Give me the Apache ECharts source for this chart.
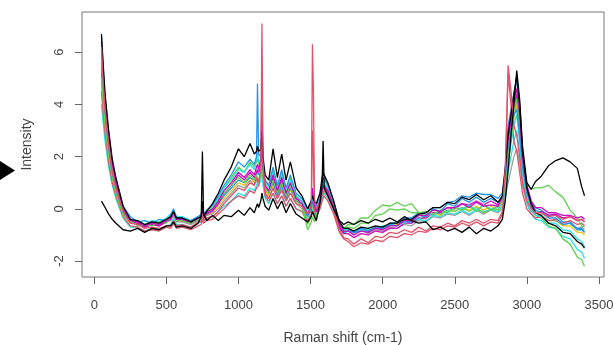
<!DOCTYPE html>
<html><head><meta charset="utf-8">
<script src="https://cdn.jsdelivr.net/npm/echarts@6/dist/echarts.min.js"></script>
<style>html,body{margin:0;padding:0;background:#fff}#c{width:613px;height:345px}</style>
</head><body><div id="c"></div>
<script>
// Raman shift grid (cm-1)
const wavenumbers = [
  50, 60, 75, 100, 125, 150, 200, 250, 300, 350, 400, 450, 500,
  530, 550, 570, 610, 670, 720, 742, 750, 758, 780, 820,
  860, 900, 950, 1000, 1040, 1080, 1110, 1125, 1132, 1140, 1155, 1163, 1170, 1185, 1210, 1240,
  1270, 1300, 1330, 1360, 1400, 1440, 1480, 1505, 1513, 1520, 1527, 1540, 1565, 1580, 1587, 1595, 1620, 1660,
  1700, 1730, 1760, 1800, 1850, 1900, 1950, 2000, 2050, 2100, 2150, 2200, 2250, 2300, 2350, 2400, 2450, 2500, 2550, 2600, 2650, 2700, 2750, 2800,
  2830, 2850, 2870, 2890, 2910, 2930, 2950, 2970, 3000, 3030, 3060, 3100, 3150, 3200, 3250, 3300, 3350, 3380, 3400
];
const xTickValues = [0, 500, 1000, 1500, 2000, 2500, 3000, 3500];
const yTickValues = [-2, 0, 2, 4, 6];

const spectrumBlackA = [
  0.3, 0.2, 0.05, -0.2, -0.4, -0.55, -0.8, -0.85, -0.75, -0.9, -0.75, -0.8, -0.65,
  -0.65, -0.5, -0.7, -0.65, -0.75, -0.55, -0.3, 2.2, -0.2, -0.45, -0.25,
  -0.45, -0.25, -0.3, -0.05, -0.25, 0.05, -0.15, 0.1, 0.2, 0.05, 0.3, 0.6, 0.4, 0.1, -0.05, 0.4,
  0.0, 0.3, -0.15, 0.2, -0.2, -0.35, -0.5, -0.3, -0.1, -0.2, -0.3, -0.45, 0.2, 0.9, 2.6, 0.8, 0.5, 0.0,
  -0.45, -0.6, -0.5, -0.6, -0.45, -0.55, -0.4, -0.5, -0.35, -0.5, -0.3, -0.45, -0.55, -0.5, -0.8, -0.7, -0.85, -0.75, -0.9, -0.7, -0.95, -0.75, -0.85, -0.65,
  -0.4, 0.3, 1.5, 2.8, 4.0, 5.3, 4.2, 2.4, 1.0, 0.75, 1.05, 1.25, 1.65, 1.85, 1.95, 1.8, 1.55, 0.85, 0.5
];
const spectrumPinkA = [
  6.2, 5.0, 3.8, 2.4, 1.4, 0.8, -0.1, -0.55, -0.6, -0.75, -0.7, -0.75, -0.65,
  -0.65, -0.45, -0.65, -0.6, -0.7, -0.5, -0.5, -0.2, -0.45, -0.35, -0.3,
  -0.1, 0.2, 0.5, 0.8, 0.7, 1.0, 0.9, 1.2, 1.1, 1.0, 1.6, 7.1, 1.8, 0.6, 0.4, 0.8,
  0.4, 0.7, 0.3, 0.6, 0.2, 0.1, -0.2, 0.1, 6.3, 4.5, 0.4, 0.0, 0.2, 0.5, 0.6, 0.7, 0.5, 0.0,
  -0.8, -1.1, -1.15, -1.35, -1.15, -1.3, -1.05, -1.1, -0.9, -0.95, -0.8, -0.9, -0.7, -0.85, -0.65, -0.7, -0.55, -0.65, -0.45, -0.55, -0.4, -0.55, -0.4, -0.45,
  -0.1, 1.5, 5.5, 4.5, 3.2, 2.8, 2.0, 1.0, 0.3, 0.0, -0.15, -0.15, -0.3, -0.25, -0.4, -0.3, -0.45, -0.4, -0.5
];
const spectrumGreenA = [
  5.0, 4.2, 3.2, 2.0, 1.2, 0.6, -0.25, -0.45, -0.65, -0.6, -0.65, -0.5, -0.55,
  -0.3, -0.2, -0.45, -0.45, -0.55, -0.4, -0.35, -0.1, -0.3, -0.15, 0.0,
  0.3, 0.6, 0.9, 1.2, 1.0, 1.3, 1.1, 1.3, 1.2, 1.1, 1.3, 1.8, 1.2, 0.8, 0.6, 1.1,
  0.6, 1.0, 0.5, 0.9, 0.3, 0.1, -0.8, -0.5, -0.3, -0.4, -0.5, -0.3, 0.2, 0.6, 0.7, 0.9, 0.7, 0.1,
  -0.6, -0.75, -0.6, -0.6, -0.35, -0.35, -0.05, 0.15, 0.1, 0.25, 0.1, 0.2, -0.15, -0.1, -0.2, -0.05, -0.15, 0.05, -0.05, 0.1, -0.1, 0.15, -0.05, 0.1,
  0.3, 0.9, 1.8, 2.6, 3.5, 4.2, 3.4, 2.0, 1.0, 0.75, 0.8, 0.8, 0.9, 0.65, 0.45, -0.05, -0.35, -0.65, -0.7
];
const spectrumBlueA = [
  6.6, 5.6, 4.3, 2.9, 1.8, 1.1, 0.1, -0.3, -0.5, -0.45, -0.55, -0.4, -0.45,
  -0.25, 0.0, -0.35, -0.35, -0.45, -0.3, -0.2, 0.1, -0.2, -0.05, 0.15,
  0.5, 0.9, 1.3, 1.8, 1.6, 1.9, 1.7, 2.0, 4.8, 2.1, 2.0, 2.6, 1.5, 1.1, 0.9, 1.6,
  0.9, 1.5, 0.8, 1.3, 0.6, 0.4, 0.0, 0.3, 0.5, 0.4, 0.2, 0.1, 0.5, 1.0, 1.1, 1.2, 0.9, 0.3,
  -0.5, -0.75, -0.75, -0.9, -0.75, -0.85, -0.7, -0.75, -0.6, -0.65, -0.45, -0.5, -0.25, -0.3, 0.0, -0.1, 0.2, 0.1, 0.4, 0.25, 0.45, 0.25, 0.4, 0.25,
  0.4, 1.2, 2.4, 3.0, 3.6, 3.8, 2.8, 1.6, 0.6, 0.2, -0.05, -0.15, -0.35, -0.35, -0.6, -0.55, -0.8, -0.8, -0.9
];
const spectrumCyanA = [
  5.8, 4.9, 3.9, 2.6, 1.6, 1.0, 0.0, -0.4, -0.45, -0.6, -0.45, -0.5, -0.35,
  -0.2, -0.05, -0.3, -0.3, -0.45, -0.3, -0.25, 0.0, -0.25, -0.05, 0.1,
  0.4, 0.8, 1.1, 1.5, 1.4, 1.7, 1.5, 1.9, 2.3, 1.8, 1.9, 3.0, 1.6, 1.0, 0.8, 1.4,
  0.8, 1.3, 0.7, 1.1, 0.5, 0.3, -0.1, 0.2, 0.4, 0.3, 0.1, 0.0, 0.4, 0.8, 0.9, 1.0, 0.8, 0.2,
  -0.5, -0.8, -0.8, -0.85, -0.8, -0.8, -0.75, -0.65, -0.65, -0.5, -0.55, -0.35, -0.4, -0.2, -0.25, -0.05, -0.1, 0.05, 0.0, 0.15, -0.05, 0.15, 0.0, 0.05,
  0.2, 0.8, 1.8, 2.5, 3.2, 3.6, 2.6, 1.3, 0.4, 0.0, -0.25, -0.3, -0.55, -0.55, -0.8, -0.85, -1.15, -1.25, -1.45
];
const spectrumMagentaA = [
  6.4, 5.4, 4.1, 2.7, 1.7, 1.0, 0.0, -0.45, -0.5, -0.65, -0.55, -0.6, -0.45,
  -0.35, -0.15, -0.4, -0.4, -0.5, -0.35, -0.3, 0.0, -0.3, -0.15, 0.0,
  0.3, 0.7, 1.0, 1.4, 1.2, 1.5, 1.3, 1.6, 1.7, 1.5, 1.9, 3.8, 1.8, 0.9, 0.7, 1.3,
  0.7, 1.2, 0.6, 1.0, 0.4, 0.2, -0.2, 0.1, 0.8, 0.5, 0.1, -0.1, 0.3, 0.7, 0.8, 0.9, 0.7, 0.1,
  -0.6, -0.85, -0.85, -1.0, -0.85, -0.9, -0.75, -0.8, -0.65, -0.65, -0.45, -0.45, -0.25, -0.25, -0.05, -0.1, 0.05, 0.05, 0.2, 0.05, 0.25, 0.1, 0.15, 0.1,
  0.5, 1.4, 3.0, 3.6, 4.2, 4.6, 3.6, 2.0, 0.9, 0.3, 0.05, 0.05, -0.15, -0.15, -0.25, -0.25, -0.35, -0.3, -0.4
];
const spectrumGray = [
  5.4, 4.6, 3.5, 2.3, 1.4, 0.8, -0.1, -0.5, -0.55, -0.7, -0.6, -0.65, -0.5,
  -0.45, -0.25, -0.5, -0.5, -0.6, -0.45, -0.4, -0.2, -0.4, -0.25, -0.2,
  0.0, 0.3, 0.6, 0.9, 0.8, 1.1, 0.9, 1.1, 1.0, 1.0, 1.3, 2.0, 1.1, 0.6, 0.4, 0.8,
  0.4, 0.8, 0.3, 0.6, 0.2, 0.0, -0.3, 0.0, 0.2, 0.1, -0.1, -0.2, 0.2, 0.5, 0.6, 0.7, 0.5, 0.0,
  -0.7, -0.9, -0.85, -0.95, -0.8, -0.95, -0.8, -0.85, -0.7, -0.75, -0.6, -0.65, -0.45, -0.5, -0.3, -0.35, -0.2, -0.25, -0.1, -0.25, -0.05, -0.2, -0.05, -0.15,
  0.0, 0.4, 1.0, 1.5, 2.0, 2.3, 1.8, 0.9, 0.2, -0.1, -0.25, -0.25, -0.45, -0.45, -0.6, -0.55, -0.75, -0.7, -0.8
];
const spectrumBlackB = [
  6.7, 5.7, 4.4, 3.0, 1.9, 1.2, 0.1, -0.4, -0.45, -0.6, -0.5, -0.55, -0.4,
  -0.3, -0.1, -0.35, -0.35, -0.5, -0.35, -0.3, 0.3, -0.25, -0.1, 0.2,
  0.6, 1.1, 1.6, 2.3, 2.0, 2.5, 2.1, 2.2, 2.4, 2.2, 2.3, 3.0, 2.0, 1.3, 1.1, 2.3,
  1.2, 2.1, 1.1, 1.8, 0.8, 0.5, 0.0, 0.3, 0.5, 0.4, 0.3, 0.2, 0.6, 1.2, 1.4, 1.3, 1.0, 0.3,
  -0.5, -0.75, -0.75, -0.85, -0.7, -0.75, -0.65, -0.7, -0.55, -0.55, -0.4, -0.4, -0.2, -0.15, 0.05, 0.05, 0.25, 0.2, 0.45, 0.35, 0.55, 0.35, 0.5, 0.25,
  0.5, 1.5, 2.8, 3.6, 4.4, 5.1, 4.0, 2.2, 0.8, 0.2, -0.15, -0.25, -0.55, -0.65, -0.9, -0.95, -1.25, -1.35, -1.5
];
const spectrumPinkB = [
  4.5, 3.8, 2.9, 1.8, 1.0, 0.5, -0.3, -0.65, -0.7, -0.85, -0.8, -0.85, -0.7,
  -0.75, -0.55, -0.75, -0.7, -0.8, -0.65, -0.6, -0.4, -0.55, -0.45, -0.4,
  -0.2, 0.0, 0.3, 0.5, 0.4, 0.7, 0.6, 0.8, 0.8, 0.9, 1.4, 5.2, 1.5, 0.5, 0.3, 0.6,
  0.2, 0.5, 0.1, 0.4, 0.0, -0.1, -0.5, -0.2, 3.0, 2.0, -0.1, -0.3, 0.0, 0.3, 0.4, 0.5, 0.3, -0.2,
  -0.9, -1.15, -1.25, -1.45, -1.3, -1.35, -1.2, -1.25, -1.05, -1.1, -0.95, -1.0, -0.85, -0.9, -0.75, -0.8, -0.65, -0.7, -0.55, -0.65, -0.5, -0.65, -0.5, -0.55,
  -0.2, 1.0, 5.2, 4.0, 2.6, 2.2, 1.4, 0.6, 0.0, -0.2, -0.35, -0.3, -0.45, -0.4, -0.55, -0.45, -0.6, -0.55, -0.65
];
const spectrumGreenB = [
  6.0, 5.1, 4.0, 2.7, 1.6, 1.0, -0.05, -0.45, -0.5, -0.65, -0.5, -0.55, -0.4,
  -0.3, -0.1, -0.35, -0.35, -0.5, -0.35, -0.3, -0.05, -0.3, -0.1, 0.1,
  0.4, 0.8, 1.2, 1.6, 1.4, 1.8, 1.6, 1.8, 1.9, 1.7, 1.8, 2.4, 1.7, 1.1, 0.9, 1.5,
  0.8, 1.4, 0.7, 1.2, 0.5, 0.3, -0.6, -0.3, 0.2, 0.1, -0.2, -0.4, 0.2, 0.8, 0.9, 1.1, 0.9, 0.2,
  -0.5, -0.75, -0.7, -0.75, -0.55, -0.55, -0.25, -0.2, 0.0, -0.05, 0.0, -0.15, -0.15, -0.3, -0.15, -0.2, -0.05, -0.1, 0.05, -0.1, 0.05, -0.15, 0.0, -0.05,
  0.3, 1.0, 2.2, 3.0, 3.8, 4.3, 3.2, 1.7, 0.6, 0.1, -0.25, -0.35, -0.65, -0.75, -1.15, -1.35, -1.85, -1.95, -2.2
];
const spectrumBlueB = [
  5.2, 4.4, 3.4, 2.2, 1.3, 0.7, -0.15, -0.5, -0.5, -0.65, -0.55, -0.6, -0.45,
  -0.3, -0.05, -0.35, -0.4, -0.55, -0.4, -0.35, -0.15, -0.35, -0.2, -0.05,
  0.2, 0.5, 0.8, 1.1, 1.0, 1.2, 1.1, 1.3, 1.5, 1.3, 1.4, 2.2, 1.3, 0.8, 0.6, 1.0,
  0.5, 0.9, 0.4, 0.8, 0.3, 0.2, -0.3, 0.0, 0.3, 0.2, 0.0, -0.1, 0.3, 0.6, 0.7, 0.8, 0.6, 0.0,
  -0.7, -0.9, -0.85, -0.9, -0.85, -0.85, -0.7, -0.75, -0.55, -0.55, -0.35, -0.35, -0.15, -0.15, 0.05, 0.05, 0.25, 0.3, 0.5, 0.45, 0.6, 0.55, 0.55, 0.4,
  0.6, 1.6, 3.2, 3.8, 4.4, 4.9, 3.8, 2.2, 0.9, 0.3, 0.05, -0.05, -0.25, -0.25, -0.5, -0.5, -0.75, -0.75, -0.9
];
const spectrumCyanB = [
  4.0, 3.4, 2.6, 1.6, 0.9, 0.4, -0.35, -0.7, -0.7, -0.85, -0.75, -0.8, -0.65,
  -0.6, -0.35, -0.6, -0.6, -0.7, -0.55, -0.5, -0.3, -0.5, -0.35, -0.3,
  -0.1, 0.1, 0.3, 0.6, 0.5, 0.8, 0.7, 0.9, 1.0, 0.9, 1.1, 1.6, 0.9, 0.4, 0.2, 0.6,
  0.2, 0.5, 0.1, 0.4, 0.0, -0.1, -0.4, -0.2, 0.0, -0.1, -0.3, -0.35, 0.0, 0.4, 0.5, 0.6, 0.4, -0.1,
  -0.8, -0.95, -0.8, -0.85, -0.75, -0.8, -0.75, -0.75, -0.6, -0.65, -0.5, -0.55, -0.4, -0.45, -0.25, -0.3, -0.15, -0.2, -0.05, -0.2, -0.05, -0.1, -0.05, -0.1,
  0.1, 0.6, 1.4, 2.0, 2.6, 3.0, 2.2, 1.1, 0.2, -0.2, -0.4, -0.45, -0.7, -0.75, -1.05, -1.15, -1.55, -1.65, -1.9
];
const spectrumMagentaB = [
  5.6, 4.7, 3.6, 2.4, 1.5, 0.9, -0.05, -0.45, -0.55, -0.7, -0.6, -0.65, -0.5,
  -0.4, -0.2, -0.45, -0.45, -0.55, -0.4, -0.35, -0.1, -0.35, -0.2, -0.1,
  0.2, 0.6, 0.9, 1.3, 1.1, 1.4, 1.2, 1.4, 1.5, 1.4, 1.6, 2.8, 1.4, 0.8, 0.6, 1.2,
  0.6, 1.1, 0.5, 0.9, 0.4, 0.3, -0.2, 0.1, 0.4, 0.3, 0.0, -0.1, 0.3, 0.7, 0.8, 0.9, 0.6, 0.0,
  -0.7, -0.95, -0.95, -1.1, -0.95, -1.0, -0.85, -0.9, -0.75, -0.75, -0.55, -0.55, -0.35, -0.35, -0.15, -0.15, 0.05, 0.0, 0.2, 0.15, 0.3, 0.15, 0.3, 0.15,
  0.4, 1.2, 2.6, 3.3, 4.0, 4.4, 3.4, 1.9, 0.7, 0.1, -0.15, -0.1, -0.25, -0.2, -0.35, -0.3, -0.45, -0.4, -0.5
];
const spectrumYellow = [
  4.8, 4.0, 3.0, 2.0, 1.2, 0.6, -0.2, -0.55, -0.55, -0.7, -0.6, -0.65, -0.5,
  -0.4, -0.25, -0.5, -0.45, -0.55, -0.4, -0.4, -0.2, -0.4, -0.25, -0.15,
  0.1, 0.4, 0.7, 1.0, 0.9, 1.2, 1.0, 1.2, 1.2, 1.1, 1.3, 2.0, 1.2, 0.7, 0.5, 0.9,
  0.5, 0.8, 0.4, 0.7, 0.3, 0.2, -0.3, 0.0, 0.2, 0.1, -0.1, -0.2, 0.2, 0.6, 0.6, 0.7, 0.5, 0.0,
  -0.7, -0.85, -0.8, -0.9, -0.75, -0.85, -0.7, -0.75, -0.55, -0.6, -0.45, -0.5, -0.35, -0.35, -0.2, -0.25, -0.05, -0.1, 0.05, -0.05, 0.1, -0.05, 0.1, -0.05,
  0.2, 0.9, 2.0, 2.8, 3.5, 4.0, 3.0, 1.5, 0.5, 0.0, -0.25, -0.25, -0.45, -0.45, -0.65, -0.65, -0.9, -0.9, -1.0
];

// drawing order (first drawn at the bottom) with R palette colours
const spectraOrder = [
  ['yellow', spectrumYellow, '#F5C710'],
  ['gray', spectrumGray, '#9E9E9E'],
  ['cyanB', spectrumCyanB, '#28E2E5'],
  ['greenB', spectrumGreenB, '#61D04F'],
  ['blueB', spectrumBlueB, '#2297E6'],
  ['magentaB', spectrumMagentaB, '#CD0BBC'],
  ['pinkB', spectrumPinkB, '#DF536B'],
  ['cyanA', spectrumCyanA, '#28E2E5'],
  ['greenA', spectrumGreenA, '#61D04F'],
  ['blueA', spectrumBlueA, '#2297E6'],
  ['magentaA', spectrumMagentaA, '#CD0BBC'],
  ['blackB', spectrumBlackB, '#000000'],
  ['pinkA', spectrumPinkA, '#DF536B'],
  ['blackA', spectrumBlackA, '#000000']
];

const chart = echarts.init(document.getElementById('c'), null, {renderer: 'canvas'});
const font = 'Liberation Sans, Arial, sans-serif';
const txt = '#444';
chart.setOption({
  animation: false,
  backgroundColor: '#ffffff',
  grid: {left: 82, top: 12, width: 522, height: 265, show: true, borderColor: '#777', borderWidth: 1, backgroundColor: 'transparent', containLabel: false, outerBoundsMode: 'none'},
  xAxis: {
    type: 'value', min: -85, max: 3535,
    name: 'Raman shift (cm-1)', nameLocation: 'middle', nameGap: 54,
    nameTextStyle: {fontFamily: font, fontSize: 14, color: txt},
    axisLine: {show: false, onZero: false},
    splitLine: {show: false},
    axisTick: {show: true, length: 7, customValues: xTickValues, lineStyle: {color: '#666'}},
    axisLabel: {customValues: xTickValues, margin: 22, fontFamily: font, fontSize: 13, color: txt, formatter: v => String(v)}
  },
  yAxis: {
    type: 'value', min: -2.61, max: 7.54,
    name: 'Intensity', nameLocation: 'middle', nameGap: 48,
    nameTextStyle: {fontFamily: font, fontSize: 14, color: txt},
    axisLine: {show: false, onZero: false},
    splitLine: {show: false},
    axisTick: {show: true, length: 7, customValues: yTickValues, lineStyle: {color: '#666'}},
    axisLabel: {customValues: yTickValues, rotate: 90, margin: 16, fontFamily: font, fontSize: 13, color: txt, formatter: v => String(v)}
  },
  graphic: [{type: 'polygon', shape: {points: [[0, 161], [15, 170.5], [0, 180]]}, style: {fill: '#000'}}],
  series: spectraOrder.map(([name, vals, color]) => ({
    name: name, type: 'line', showSymbol: false, symbol: 'none',
    lineStyle: {width: 1.3, color: color},
    data: wavenumbers.map((w, i) => [w, vals[i]])
  }))
});
</script></body></html>
